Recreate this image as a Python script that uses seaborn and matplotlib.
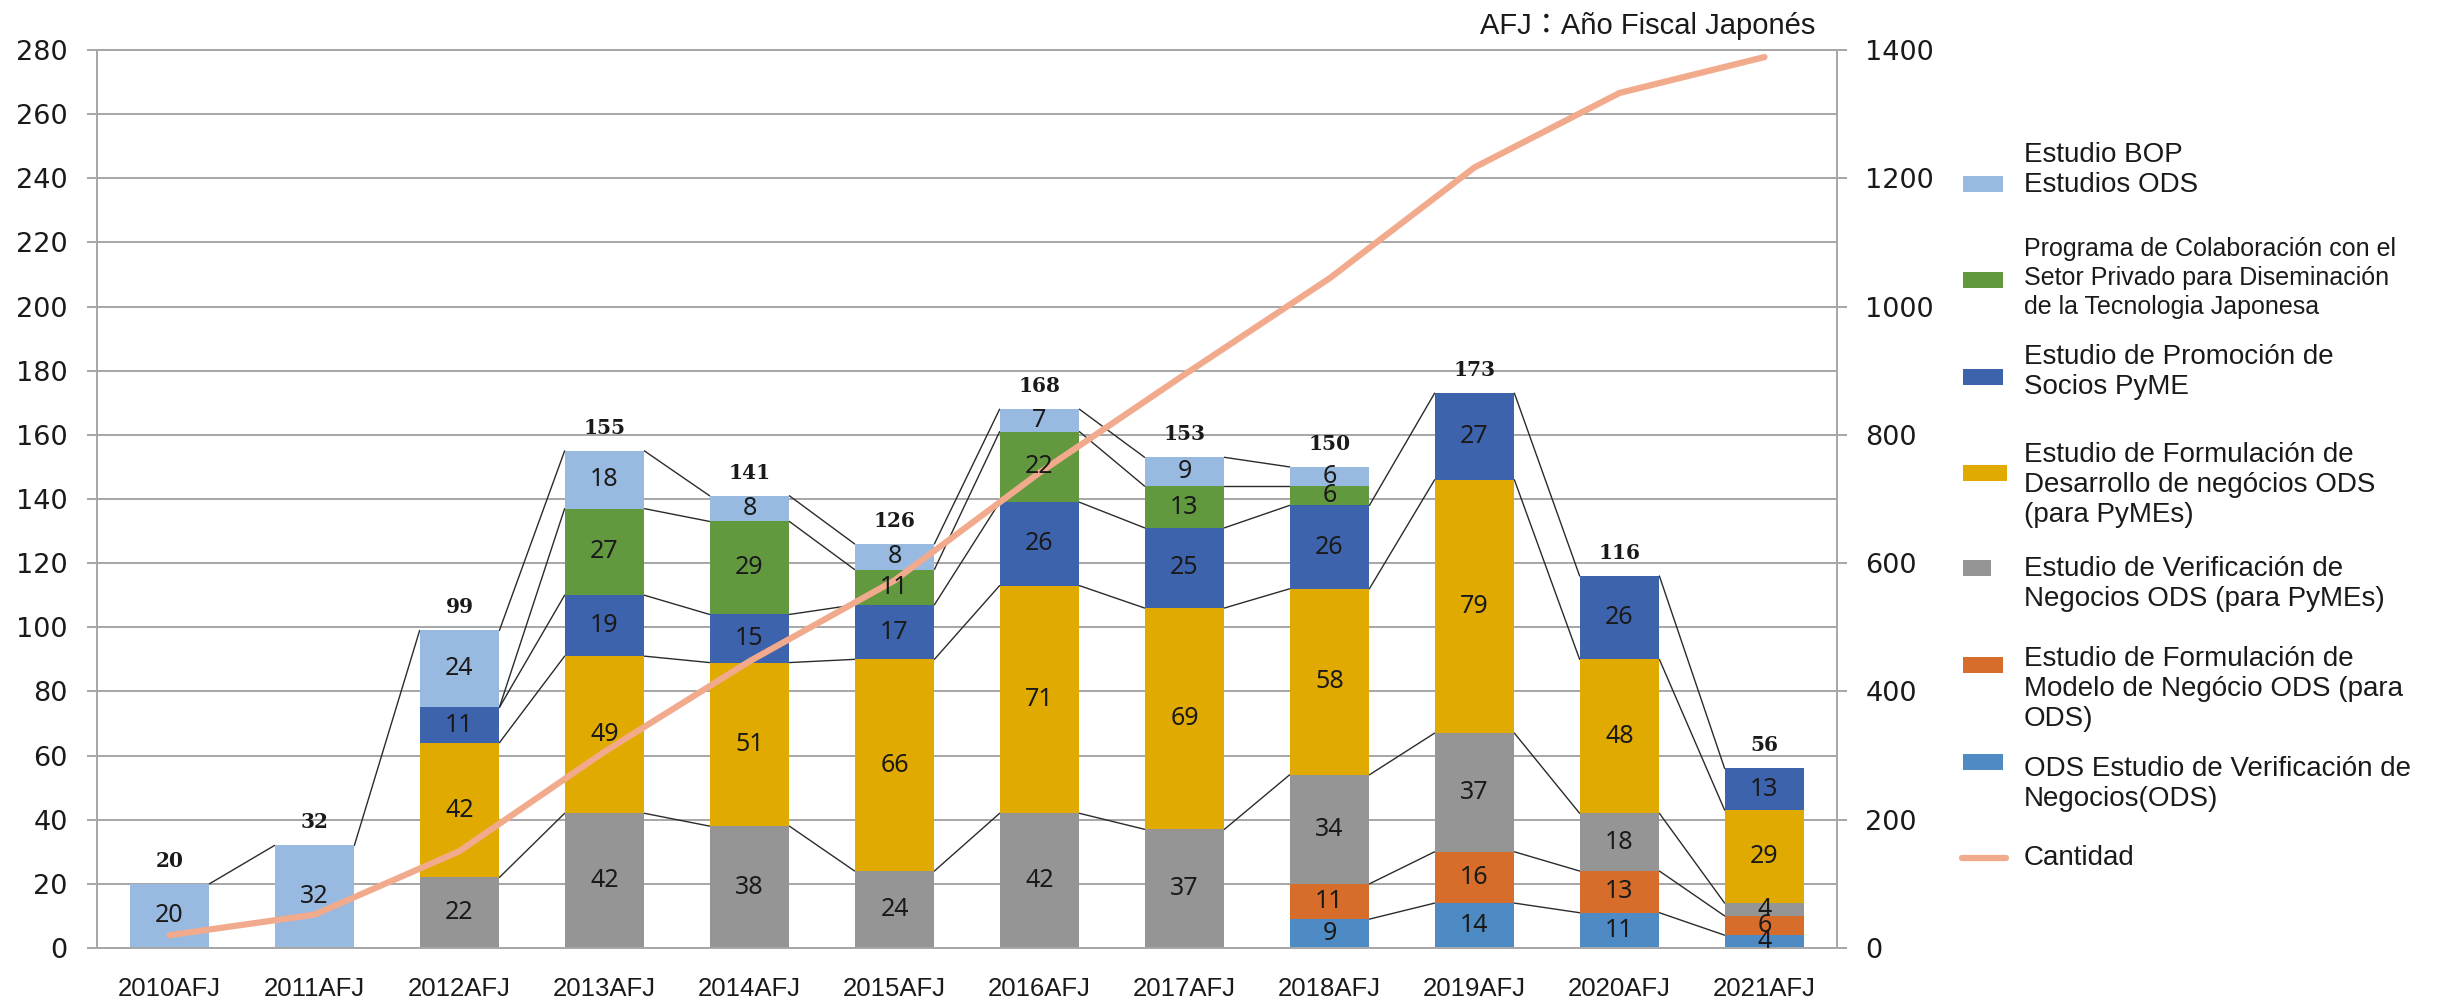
import numpy as np
import pandas as pd
import matplotlib
matplotlib.use("Agg")
import matplotlib.pyplot as plt
from matplotlib.patches import Rectangle
from matplotlib.lines import Line2D
import seaborn as sns

# ---------------------------------------------------------------- data
years = ["2010AFJ", "2011AFJ", "2012AFJ", "2013AFJ", "2014AFJ", "2015AFJ",
         "2016AFJ", "2017AFJ", "2018AFJ", "2019AFJ", "2020AFJ", "2021AFJ"]

# stacked from the bottom up; None = programme not run that year
ods_verif = [None, None, None, None, None, None, None, None, 9, 14, 11, 4]
ods_modelo = [None, None, None, None, None, None, None, None, 11, 16, 13, 6]
pyme_verif = [None, None, 22, 42, 38, 24, 42, 37, 34, 37, 18, 4]
pyme_form = [None, None, 42, 49, 51, 66, 71, 69, 58, 79, 48, 29]
pyme_socios = [None, None, 11, 19, 15, 17, 26, 25, 26, 27, 26, 13]
colab_privado = [None, None, 0, 27, 29, 11, 22, 13, 6, None, None, None]
bop_ods = [20, 32, 24, 18, 8, 8, 7, 9, 6, None, None, None]

# accumulated number of studies (right axis)
cantidad = [20, 52, 151, 306, 447, 573, 741, 894, 1044, 1217, 1333, 1389]

series_names = [
    "ODS Estudio de Verificación de\nNegocios(ODS)",
    "Estudio de Formulación de\nModelo de Negócio ODS (para\nODS)",
    "Estudio de Verificación de\nNegocios ODS (para PyMEs)",
    "Estudio de Formulación de\nDesarrollo de negócios ODS\n(para PyMEs)",
    "Estudio de Promoción de\nSocios PyME",
    "Programa de Colaboración con el\nSetor Privado para Diseminación\nde la Tecnologia Japonesa",
    "Estudio BOP\nEstudios ODS",
]
series_values = [ods_verif, ods_modelo, pyme_verif, pyme_form, pyme_socios,
                 colab_privado, bop_ods]
series_colors = ["#4E8AC3", "#D66D2A", "#959595", "#E1AA00", "#3D63AD",
                 "#62993F", "#98B9E0"]
line_name = "Cantidad"
line_color = "#F2AA8C"
note_text = "AFJ：Año Fiscal Japonés"

# ---------------------------------------------------------------- style
sns.set_style("white")
plt.rcParams["font.family"] = ["Liberation Sans", "Noto Sans CJK JP", "DejaVu Sans"]

W, H = 2442, 1006
fig = plt.figure(figsize=(W / 100, H / 100), dpi=100)
ax = fig.add_axes([97 / W, 1 - 948 / H, (1837 - 97) / W, (948 - 50) / H])

grid_c = "#A6A6A6"
txt_c = "#1a1a1a"
bar_w = 0.55
n = len(years)

# ---------------------------------------------------------------- stacked bars
base = np.zeros(n)
tops = []
for name, vals, color in zip(series_names, series_values, series_colors):
    v = np.array([0.0 if x is None else float(x) for x in vals])
    df = pd.DataFrame({"year": years, "n": v})
    sns.barplot(data=df, x="year", y="n", order=years, color=color,
                saturation=1, width=bar_w, errorbar=None, linewidth=0,
                bottom=base.copy(), ax=ax, zorder=2)
    tops.append((base.copy(), v, [x is not None for x in vals]))
    base = base + v
totals = base

# series lines joining each segment top between neighbouring bars
for b, v, present in tops:
    top = b + v
    for i in range(n - 1):
        if present[i] and present[i + 1]:
            ax.plot([i + bar_w / 2, i + 1 - bar_w / 2], [top[i], top[i + 1]],
                    color="#2b2b2b", lw=1.0, zorder=1.5)

ax.set_xlim(-0.5, n - 0.5)
ax.set_ylim(0, 280)
ax.set_yticks(np.arange(0, 281, 20))
ax.set_xlabel("")
ax.set_ylabel("")
ax.yaxis.grid(True, color=grid_c, lw=1.4, zorder=0)
ax.set_axisbelow(True)

ax.set_xticks(range(n))
ax.set_xticklabels(years)
ax.set_xticks(np.arange(-0.5, n, 1), minor=True)
ax.tick_params(axis="x", which="major", length=0, pad=21, labelsize=18.5,
               labelcolor=txt_c)
ax.tick_params(axis="x", which="minor", length=8, width=1.4, color=grid_c,
               direction="out")
ax.tick_params(axis="y", length=7.5, width=1.4, color=grid_c, pad=13.5,
               labelsize=19.5, labelcolor=txt_c, direction="out")
for lab in ax.get_yticklabels():
    lab.set_family("DejaVu Sans")

for s in ["left", "bottom", "top"]:
    ax.spines[s].set_visible(True)
    ax.spines[s].set_color(grid_c)
    ax.spines[s].set_linewidth(1.4)
ax.spines["right"].set_visible(False)

# ---------------------------------------------------------------- cumulative line
ax2 = ax.twinx()
sns.lineplot(x=np.arange(n), y=cantidad, ax=ax2, color=line_color,
             linewidth=4.5, legend=False)
ax2.lines[-1].set_solid_capstyle("round")
ax2.set_ylim(0, 1400)
ax2.set_yticks(np.arange(0, 1401, 200))
ax2.set_ylabel("")
ax2.tick_params(axis="y", length=7.5, width=1.4, color=grid_c, pad=13,
                labelsize=19.5, labelcolor=txt_c, direction="out")
for lab in ax2.get_yticklabels():
    lab.set_family("DejaVu Sans")
for s in ["left", "bottom", "top"]:
    ax2.spines[s].set_visible(False)
ax2.spines["right"].set_visible(True)
ax2.spines["right"].set_color(grid_c)
ax2.spines["right"].set_linewidth(1.4)
ax2.grid(False)

# ---------------------------------------------------------------- data labels
for b, v, present in tops:
    for i in range(n):
        if v[i] > 0:
            ax2.text(i, b[i] + v[i] / 2, f"{int(v[i])}", transform=ax.transData,
                     ha="center", va="center", fontsize=18,
                     family="Noto Sans", color=txt_c, zorder=6)

for i, t in enumerate(totals):
    ax2.annotate(f"{int(t)}", xy=(i, t), xycoords=ax.transData,
                 xytext=(0, 9.5), textcoords="offset points", ha="center",
                 va="bottom", fontsize=14.5, fontweight="bold",
                 family="DejaVu Serif", color=txt_c, zorder=6)

fig.text(1815 / W, 1 - 26 / H, note_text, ha="right", va="center",
         fontsize=21, color=txt_c)

# ---------------------------------------------------------------- legend
def fx(x):
    return x / W


def fy(y):
    return 1 - y / H


legend_rows = [
    # (series index, patch centre y, text centre y, font size, patch width)
    (6, 184, 170, 20, 40),
    (5, 280, 278, 18, 40),
    (4, 377, 372, 20, 40),
    (3, 473, 485, 20, 44),
    (2, 568, 584, 20, 28),
    (1, 665, 689, 20, 40),
    (0, 762, 784, 20, 40),
]
for idx, py, ty, fs, pw in legend_rows:
    fig.patches.append(Rectangle((fx(1963), fy(py + 8)), pw / W, 16 / H,
                                 transform=fig.transFigure,
                                 facecolor=series_colors[idx], edgecolor="none"))
    fig.text(fx(2024), fy(ty), series_names[idx], ha="left", va="center",
             fontsize=fs, color=txt_c, linespacing=1.22 if fs == 20 else 1.27)

fig.lines.append(Line2D([fx(1962), fx(2006)], [fy(858), fy(858)],
                        transform=fig.transFigure, color=line_color, lw=4.5))
fig.text(fx(2024), fy(858), line_name, ha="left", va="center", fontsize=20,
         color=txt_c)

fig.savefig("out.png", dpi=100)
